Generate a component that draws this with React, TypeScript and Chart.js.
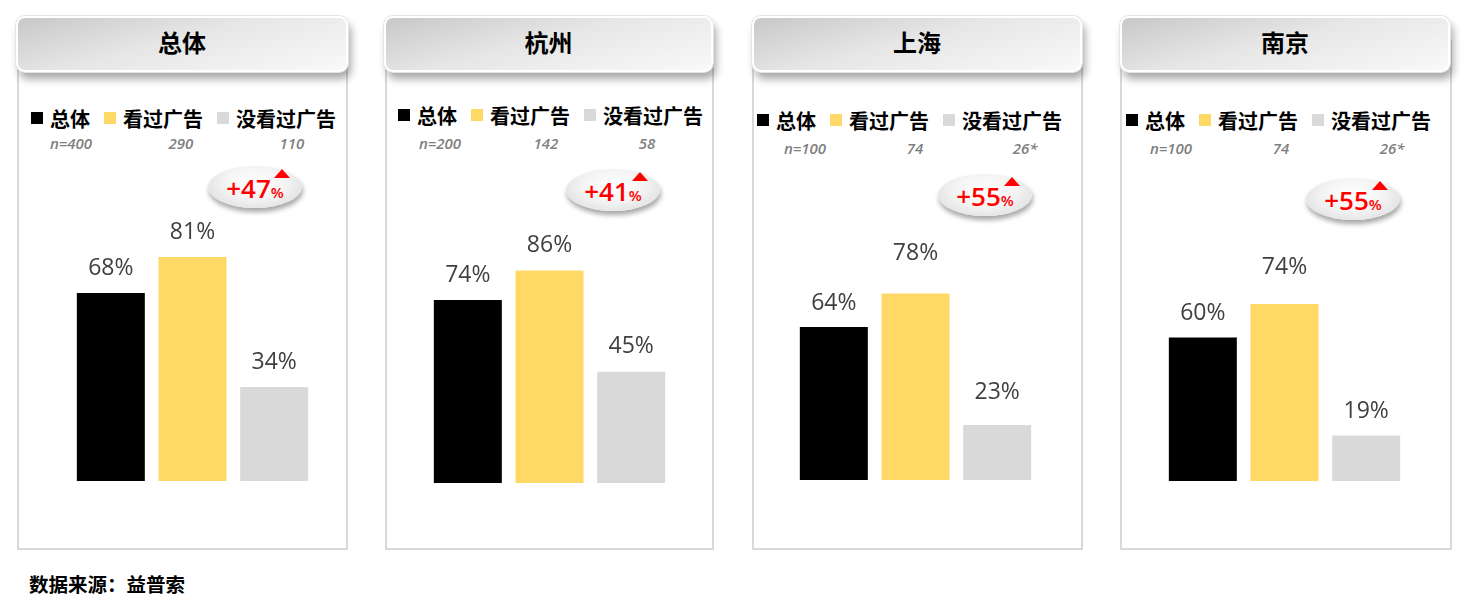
import React, { useRef, useEffect } from 'react'
import { Chart, registerables } from 'chart.js'

Chart.register(...registerables)

const cities = ['总体', '杭州', '上海', '南京']
const seriesNames = ['总体', '看过广告', '没看过广告']
const totalValues = [68, 74, 64, 60]
const seenValues = [81, 86, 78, 74]
const unseenValues = [34, 45, 23, 19]
const totalN = ['n=400', 'n=200', 'n=100', 'n=100']
const seenN = ['290', '142', '74', '74']
const unseenN = ['110', '58', '26*', '26*']
const liftLabels = ['+47', '+41', '+55', '+55']

const barColors = ['#000000', '#FFD966', '#D9D9D9']
const CANVAS_TOP = 180

// page geometry of each panel (pixels); labelGap = distance of value label above bar top
const panels = [
  { left: 17, right: 346, hLeft: 16, hRight: 348, barLeft: 77, base: 481, yMax: 108.9, labelGap: [25, 25, 25], legendX: 31, legendY: 118, nY: 143, nX: [71, 181, 292], bubble: [255, 187] },
  { left: 385, right: 712, hLeft: 384, hRight: 713, barLeft: 434, base: 483, yMax: 122.6, labelGap: [25, 25, 25], legendX: 398, legendY: 115, nY: 143, nX: [440, 546, 647], bubble: [613, 190] },
  { left: 752, right: 1081, hLeft: 752, hRight: 1082, barLeft: 800, base: 480, yMax: 125.5, labelGap: [24, 40, 33], legendX: 757, legendY: 120, nY: 148, nX: [805, 915, 1025], bubble: [985, 195] },
  { left: 1120, right: 1450, hLeft: 1120, hRight: 1450, barLeft: 1169, base: 481, yMax: 125.9, labelGap: [24, 37, 24], legendX: 1126, legendY: 120, nY: 148, nX: [1171, 1281, 1392], bubble: [1353, 199] },
]

const valueLabels = {
  id: 'valueLabels',
  afterDatasetsDraw(chart: any, _args: any, opts: any) {
    const ctx = chart.ctx
    const meta = chart.getDatasetMeta(0)
    const values = chart.data.datasets[0].data
    const gaps: number[] = opts.gaps || [25, 25, 25]
    ctx.save()
    ctx.font = '23px "Open Sans", sans-serif'
    ctx.fillStyle = '#404040'
    ctx.textAlign = 'center'
    ctx.textBaseline = 'middle'
    meta.data.forEach((bar: any, i: number) => {
      ctx.fillText(values[i] + '%', bar.x, bar.y - gaps[i])
    })
    ctx.restore()
  },
}

const BarPanel = ({ idx }: { idx: number }) => {
  const chartRef = useRef<HTMLCanvasElement>(null)
  const p = panels[idx]

  useEffect(() => {
    if (!chartRef.current) return
    const chart = new Chart(chartRef.current, {
      type: 'bar',
      data: {
        labels: seriesNames,
        datasets: [
          {
            data: [totalValues[idx], seenValues[idx], unseenValues[idx]],
            backgroundColor: barColors,
            barPercentage: 68 / 81.67,
            categoryPercentage: 1,
          },
        ],
      },
      options: {
        responsive: false,
        animation: false,
        layout: { padding: 0 },
        plugins: {
          legend: { display: false },
          tooltip: { enabled: false },
          valueLabels: { gaps: p.labelGap },
        } as any,
        scales: {
          x: { display: false },
          y: { display: false, min: 0, max: p.yMax },
        },
      },
      plugins: [valueLabels],
    })
    return () => chart.destroy()
  }, [idx])

  return (
    <canvas
      ref={chartRef}
      width={245}
      height={p.base - CANVAS_TOP}
      style={{ position: 'absolute', left: p.barLeft - 7, top: CANVAS_TOP, width: 245, height: p.base - CANVAS_TOP }}
    />
  )
}

const cjk = '"Noto Sans CJK SC", "Noto Sans", sans-serif'

const Panel = ({ idx }: { idx: number }) => {
  const p = panels[idx]
  const nLabels = [totalN[idx], seenN[idx], unseenN[idx]]
  return (
    <>
      {/* panel frame */}
      <div style={{ position: 'absolute', left: p.left, top: 40, width: p.right - p.left - 2, height: 506, border: '2px solid #d9d9d9', boxSizing: 'content-box' }} />
      {/* header */}
      <div
        style={{
          position: 'absolute', left: p.hLeft, top: 16, width: p.hRight - p.hLeft, height: 56, boxSizing: 'border-box',
          borderRadius: 9, border: '2px solid #ffffff', paddingBottom: 5,
          background: 'linear-gradient(165deg, #c8c8c8 0%, #e6e6e6 45%, #f9f9f9 100%)',
          boxShadow: '0 0 0 1px #e4e4e4, 3px 7px 8px rgba(0,0,0,0.35)',
          display: 'flex', alignItems: 'center', justifyContent: 'center',
          fontFamily: cjk, fontWeight: 700, fontSize: 24, color: '#000', zIndex: 2,
        }}
      >
        {cities[idx]}
      </div>
      {/* legend */}
      <div style={{ position: 'absolute', left: p.legendX, top: p.legendY - 14, height: 28, display: 'flex', alignItems: 'center', fontFamily: cjk, fontWeight: 700, fontSize: 20, color: '#000', whiteSpace: 'nowrap' }}>
        {seriesNames.map((s, i) => (
          <span key={s} style={{ display: 'flex', alignItems: 'center', marginRight: 14 }}>
            <span style={{ width: 12, height: 12, background: barColors[i], marginRight: 7 }} />
            {s}
          </span>
        ))}
      </div>
      {nLabels.map((n, i) => (
        <div key={i} style={{ position: 'absolute', left: p.nX[i] - 40, width: 80, top: p.nY - 10, height: 20, lineHeight: '20px', textAlign: 'center', fontFamily: '"Open Sans", sans-serif', fontStyle: 'italic', fontWeight: 600, fontSize: 15, color: '#808080' }}>
          {n}
        </div>
      ))}
      {/* lift bubble */}
      <div
        style={{
          position: 'absolute', left: p.bubble[0] - 47, top: p.bubble[1] - 21, width: 94, height: 42, borderRadius: '50%',
          background: 'radial-gradient(ellipse at 50% 40%, #ffffff 0%, #f4f4f4 45%, #d6d6d6 100%)',
          boxShadow: '1px 4px 5px rgba(0,0,0,0.35)',
        }}
      />
      <div style={{ position: 'absolute', left: p.bubble[0] - 47, width: 94, top: p.bubble[1] - 16, height: 34, display: 'flex', alignItems: 'baseline', justifyContent: 'center', fontFamily: '"Open Sans", sans-serif', fontWeight: 600, color: '#ff0000' }}>
        <span style={{ fontSize: 26, lineHeight: '34px' }}>{liftLabels[idx]}</span>
        <span style={{ fontSize: 15 }}>%</span>
      </div>
      <div style={{ position: 'absolute', left: p.bubble[0] + 19, top: p.bubble[1] - 18, width: 0, height: 0, borderLeft: '8.5px solid transparent', borderRight: '8.5px solid transparent', borderBottom: '9px solid #ff0000' }} />
      <BarPanel idx={idx} />
    </>
  )
}

export default function App() {
  return (
    <div style={{ position: 'absolute', left: 0, top: 0, width: 1481, height: 602, background: '#ffffff', overflow: 'hidden' }}>
      {cities.map((_, i) => (
        <Panel key={i} idx={i} />
      ))}
      <div style={{ position: 'absolute', left: 29, top: 569, fontFamily: cjk, fontWeight: 700, fontSize: 19.5, color: '#000', whiteSpace: 'nowrap' }}>
        数据来源：益普索
      </div>
    </div>
  )
}
